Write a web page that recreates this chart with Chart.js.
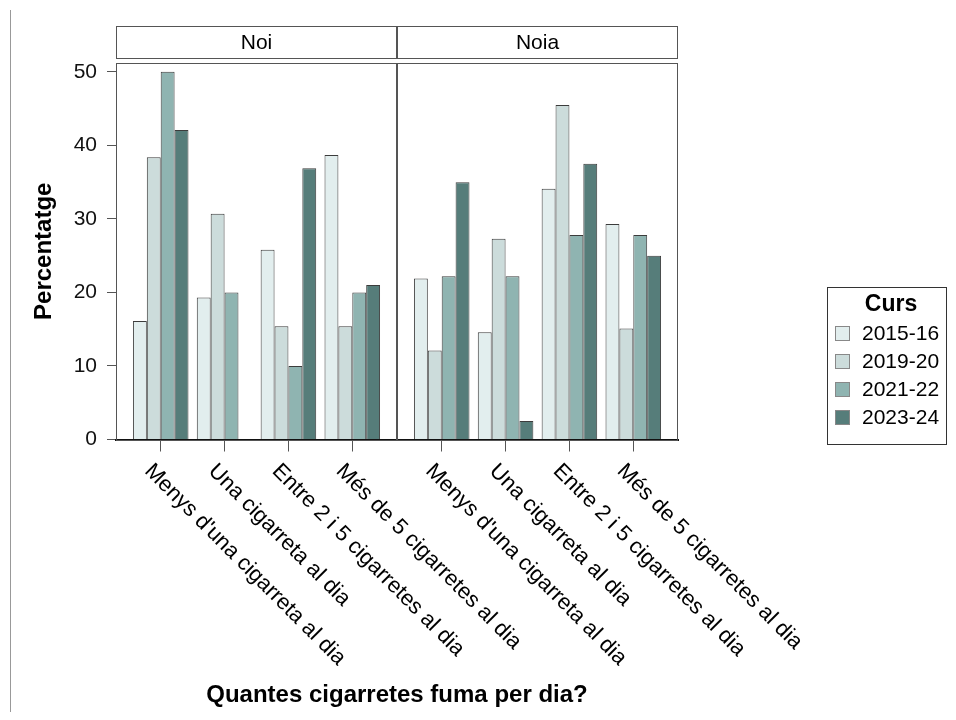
<!DOCTYPE html>
<html>
<head>
<meta charset="utf-8">
<script src="https://cdn.jsdelivr.net/npm/chart.js@4.4.0/dist/chart.umd.min.js"></script>
<style>
  html, body { margin: 0; padding: 0; background: #fff; }
  #wrap { position: relative; width: 956px; height: 720px; }
</style>
</head>
<body>
<div id="wrap"><canvas id="chart" width="956" height="720"></canvas></div>
<script>
// categories and panels
const categories = ["Menys d'una cigarreta al dia", 'Una cigarreta al dia', 'Entre 2 i 5 cigarretes al dia', 'Més de 5 cigarretes al dia'];
const panels = ['Noi', 'Noia'];
const courses = ['2015-16', '2019-20', '2021-22', '2023-24'];

// values: first 4 = Noi, last 4 = Noia
const curs1516 = [16.1, 19.3, 25.8, 38.7, 21.9, 14.6, 34.1, 29.3];
const curs1920 = [38.4, 30.7, 15.4, 15.4, 12.1, 27.3, 45.5, 15.1];
const curs2122 = [50.0, 20.0, 10.0, 20.0, 22.2, 22.2, 27.8, 27.8];
const curs2324 = [42.1, null, 36.9, 21.0, 35.0, 2.5, 37.5, 25.0];

const yTicks = [0, 10, 20, 30, 40, 50];

const colors = ['#e2eeee', '#ccdcdb', '#8fb4b1', '#567d7a'];
const FONT = '"Liberation Sans", Arial, sans-serif';

// each panel spans 4.4 category units, first category 0.7 in from the edge
const span = 4.4;
const pad = 0.7;
const xPos = [];
panels.forEach((p, pi) => categories.forEach((c, ci) => xPos.push(pi * span + ci)));

const series = [curs1516, curs1920, curs2122, curs2324];
const datasets = series.map((vals, k) => ({
  label: courses[k],
  data: vals.map((v, i) => ({ x: xPos[i], y: v })),
  backgroundColor: colors[k],
  borderColor: '#3c3c3c',
  borderWidth: 1,
  barPercentage: 1,
  categoryPercentage: 0.87
}));

const decor = {
  id: 'decor',
  afterDraw(chart) {
    const ctx = chart.ctx;
    const x = chart.scales.x;
    const area = chart.chartArea;
    ctx.save();

    // thin grey line at the left edge
    ctx.strokeStyle = '#999';
    ctx.lineWidth = 1;
    ctx.beginPath();
    ctx.moveTo(10.5, 10);
    ctx.lineTo(10.5, 712);
    ctx.stroke();

    panels.forEach((name, pi) => {
      const l = x.getPixelForValue(pi * span - pad);
      const r = x.getPixelForValue(pi * span - pad + span);
      // panel frame
      ctx.strokeStyle = '#555';
      ctx.lineWidth = 1;
      ctx.strokeRect(Math.round(l) + 0.5, Math.round(area.top) + 0.5, Math.round(r - l) - 1, Math.round(area.bottom - area.top));
      // strip header
      ctx.strokeRect(Math.round(l) + 0.5, 26.5, Math.round(r - l) - 1, 32);
      ctx.fillStyle = '#000';
      ctx.font = '21px ' + FONT;
      ctx.textAlign = 'center';
      ctx.textBaseline = 'middle';
      ctx.fillText(name, (l + r) / 2, 43);

      // rotated category labels
      categories.forEach((c, ci) => {
        const px = x.getPixelForValue(pi * span + ci);
        ctx.save();
        ctx.translate(px - 5, 460);
        ctx.rotate(Math.PI / 4);
        ctx.textAlign = 'left';
        ctx.textBaseline = 'top';
        ctx.font = '22px ' + FONT;
        ctx.fillText(c, 0, 0);
        ctx.restore();
      });
    });

    // axis titles
    ctx.fillStyle = '#000';
    ctx.font = 'bold 24px ' + FONT;
    ctx.textAlign = 'center';
    ctx.textBaseline = 'middle';
    ctx.fillText('Quantes cigarretes fuma per dia?', (area.left + area.right) / 2, 695);
    ctx.save();
    ctx.translate(44, (area.top + area.bottom) / 2);
    ctx.rotate(-Math.PI / 2);
    ctx.fillText('Percentatge', 0, 0);
    ctx.restore();

    // legend
    ctx.strokeStyle = '#333';
    ctx.strokeRect(827.5, 287.5, 119, 157);
    ctx.font = 'bold 23px ' + FONT;
    ctx.fillText('Curs', 891, 305);
    chart.data.datasets.forEach((ds, k) => {
      const cy = 333 + k * 28;
      ctx.fillStyle = ds.backgroundColor;
      ctx.fillRect(835, cy - 7, 15, 15);
      ctx.strokeStyle = '#888';
      ctx.strokeRect(835.5, cy - 6.5, 14, 14);
      ctx.fillStyle = '#000';
      ctx.font = '21px ' + FONT;
      ctx.textAlign = 'left';
      ctx.fillText(ds.label, 862, cy + 1);
      ctx.textAlign = 'center';
    });
    ctx.restore();
  }
};

new Chart(document.getElementById('chart'), {
  type: 'bar',
  data: { datasets },
  options: {
    responsive: false,
    animation: false,
    layout: { padding: { top: 63, left: 0, right: 278, bottom: 0 } },
    plugins: { legend: { display: false }, tooltip: { enabled: false } },
    scales: {
      x: {
        type: 'linear',
        offset: false,
        min: -pad,
        max: span * panels.length - pad,
        afterBuildTicks: s => { s.ticks = xPos.map(v => ({ value: v })); },
        afterFit: s => { s.height = 280.5; },
        ticks: { display: false },
        grid: { offset: false, drawOnChartArea: false, drawTicks: true, tickLength: 12, color: '#555' },
        border: { display: true, color: '#111', width: 2 }
      },
      y: {
        min: 0,
        max: 51.2,
        afterBuildTicks: s => { s.ticks = yTicks.map(v => ({ value: v })); },
        afterFit: s => { s.width = 116; },
        ticks: { color: '#111', padding: 10, font: { family: FONT, size: 21 } },
        grid: { drawOnChartArea: false, drawTicks: true, tickLength: 9, color: '#555' },
        border: { display: true, color: '#333', width: 1 }
      }
    }
  },
  plugins: [decor]
});
</script>
</body>
</html>
